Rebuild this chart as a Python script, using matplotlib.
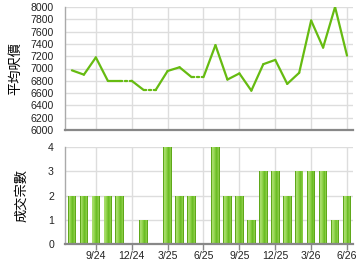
import matplotlib
matplotlib.use("Agg")
import matplotlib.pyplot as plt
import numpy as np

plt.rcParams['font.family'] = ['Liberation Sans', 'DejaVu Sans']

months = ['7/24', '8/24', '9/24', '10/24', '11/24', '12/24', '1/25', '2/25', '3/25',
          '4/25', '5/25', '6/25', '7/25', '8/25', '9/25', '10/25', '11/25', '12/25',
          '1/26', '2/26', '3/26', '4/26', '5/26', '6/26']
avg_price = [6970, 6900, 7180, 6800, 6800, None, 6650, None, 6960,
             7020, 6860, None, 7380, 6820, 6920, 6640, 7070, 7140,
             6750, 6930, 7780, 7340, 8000, 7210]
deals = [2, 2, 2, 2, 2, 0, 1, 0, 4, 2, 2, 0, 4, 2, 2, 1, 3, 3, 2, 3, 3, 3, 1, 2]
tick_labels = ['9/24', '12/24', '3/25', '6/25', '9/25', '12/25', '3/26', '6/26']
price_ticks = list(range(6000, 8001, 200))
deal_ticks = [0, 1, 2, 3, 4]

x = np.arange(len(months))
tick_pos = [months.index(t) for t in tick_labels]

W, H = 360, 270
fig = plt.figure(figsize=(W / 100, H / 100), dpi=100)
ax1 = fig.add_axes([65 / W, 1 - 130 / H, (353 - 65) / W, (130 - 7) / H])
ax2 = fig.add_axes([65 / W, 1 - 244 / H, (353 - 65) / W, (244 - 147) / H])

line_color = '#66bb11'
grid_color = '#dddddd'

# fill missing months with the previous value
filled = []
last = None
for v in avg_price:
    if v is None:
        filled.append(last)
    else:
        filled.append(v)
        last = v

for i in range(1, len(x)):
    style = (0, (1, 1.2)) if avg_price[i] is None else '-'
    ax1.plot(x[i - 1:i + 1], filled[i - 1:i + 1], color=line_color, lw=1.6,
             linestyle=style, solid_capstyle='round', solid_joinstyle='round',
             dash_capstyle='round', zorder=3)

xl = (-0.58, 23.5)
for ax in (ax1, ax2):
    ax.set_xlim(*xl)
    ax.set_xticks(tick_pos)
    ax.grid(True, color=grid_color, lw=1.0)
    ax.set_axisbelow(True)
    for s in ('top', 'right'):
        ax.spines[s].set_visible(False)
    ax.spines['left'].set_color('#aaaaaa')
    ax.spines['left'].set_linewidth(1.0)
    ax.spines['bottom'].set_color('#888888')
    ax.spines['bottom'].set_linewidth(1.6)
    ax.tick_params(axis='y', length=0, labelsize=7.6, pad=8, colors='#222222')

ax1.set_ylim(6000, 8000)
ax1.set_yticks(price_ticks)
ax1.tick_params(axis='x', length=0, labelbottom=False)
ax1.set_ylabel('平均呎價', family=['Noto Sans CJK TC'], fontsize=9.5, labelpad=6)

ax2.set_ylim(0, 4)
ax2.set_yticks(deal_ticks)
ax2.set_xticklabels(tick_labels)
ax2.tick_params(axis='x', length=4, width=1, color='#888888', labelsize=7.6, pad=1,
                colors='#222222')
ax2.set_ylabel('成交宗數', family=['Noto Sans CJK TC'], fontsize=9.5, labelpad=14)

# gradient bars: vertical strips across the bar width
bar_w = 0.72
strip_cols = ['#5fa81a', '#a6dc6a', '#a0da60', '#90d24c', '#7cc836', '#6cbd26',
              '#78c432', '#88cc44', '#5fa81a']
n = len(strip_cols)
sw = bar_w / n
for k, c in enumerate(strip_cols):
    off = -bar_w / 2 + sw * (k + 0.5)
    ax2.bar(x + off, deals, width=sw * 1.02, color=c, lw=0, zorder=2)

fig.savefig('out.png', dpi=100)
